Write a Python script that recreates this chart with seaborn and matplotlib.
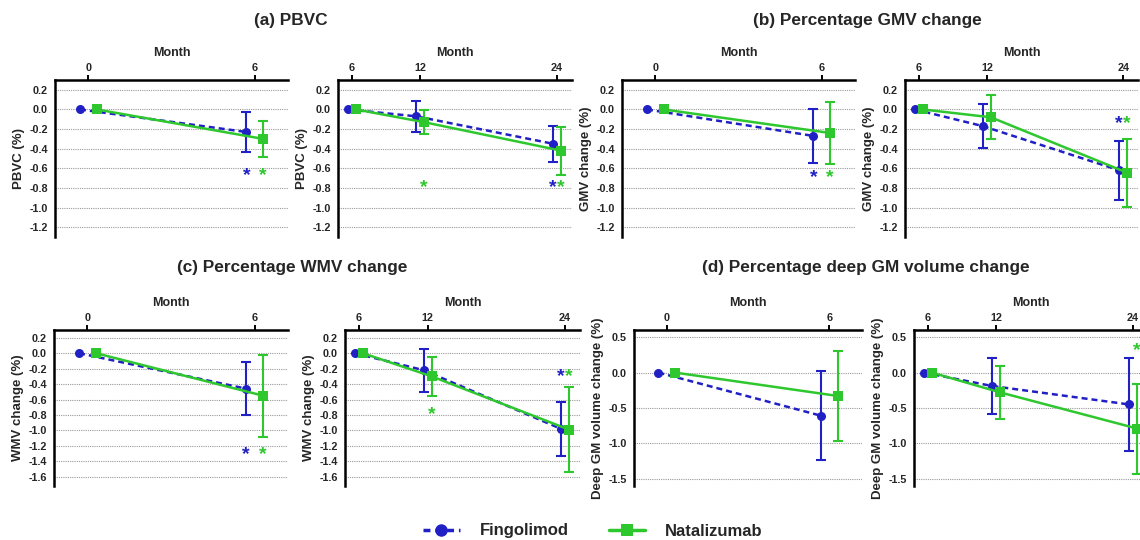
import matplotlib
matplotlib.use("Agg")
import numpy as np
import pandas as pd
import matplotlib.pyplot as plt
from matplotlib.lines import Line2D
from matplotlib.ticker import FormatStrFormatter
from matplotlib.transforms import offset_copy
import seaborn as sns

groups = ["Fingolimod", "Natalizumab"]
months_first = [0, 6]
months_second = [6, 12, 24]

# (a) PBVC
pbvc_first_fin = [0.0, -0.23]
pbvc_first_fin_err = [0.0, 0.20]
pbvc_first_nat = [0.0, -0.30]
pbvc_first_nat_err = [0.0, 0.18]
pbvc_second_fin = [0.0, -0.07, -0.35]
pbvc_second_fin_err = [0.0, 0.16, 0.185]
pbvc_second_nat = [0.0, -0.13, -0.42]
pbvc_second_nat_err = [0.0, 0.125, 0.245]

# (b) GMV
gmv_first_fin = [0.0, -0.27]
gmv_first_fin_err = [0.0, 0.275]
gmv_first_nat = [0.0, -0.24]
gmv_first_nat_err = [0.0, 0.32]
gmv_second_fin = [0.0, -0.17, -0.62]
gmv_second_fin_err = [0.0, 0.225, 0.30]
gmv_second_nat = [0.0, -0.08, -0.645]
gmv_second_nat_err = [0.0, 0.225, 0.345]

# (c) WMV
wmv_first_fin = [0.0, -0.46]
wmv_first_fin_err = [0.0, 0.345]
wmv_first_nat = [0.0, -0.55]
wmv_first_nat_err = [0.0, 0.53]
wmv_second_fin = [0.0, -0.22, -0.98]
wmv_second_fin_err = [0.0, 0.28, 0.35]
wmv_second_nat = [0.0, -0.30, -0.99]
wmv_second_nat_err = [0.0, 0.255, 0.55]

# (d) deep GM
dgm_first_fin = [0.0, -0.61]
dgm_first_fin_err = [0.0, 0.63]
dgm_first_nat = [0.0, -0.33]
dgm_first_nat_err = [0.0, 0.63]
dgm_second_fin = [0.0, -0.19, -0.45]
dgm_second_fin_err = [0.0, 0.40, 0.65]
dgm_second_nat = [0.0, -0.28, -0.79]
dgm_second_nat_err = [0.0, 0.375, 0.635]

# significance stars: (month, group, y)
pbvc_first_stars = [(6, "Fingolimod", -0.64), (6, "Natalizumab", -0.64)]
pbvc_second_stars = [(12, "Natalizumab", -0.76), (24, "Fingolimod", -0.76), (24, "Natalizumab", -0.76)]
gmv_first_stars = [(6, "Fingolimod", -0.66), (6, "Natalizumab", -0.66)]
gmv_second_stars = [(24, "Fingolimod", -0.11), (24, "Natalizumab", -0.11)]
wmv_first_stars = [(6, "Fingolimod", -1.27), (6, "Natalizumab", -1.27)]
wmv_second_stars = [(12, "Natalizumab", -0.75), (24, "Fingolimod", -0.26), (24, "Natalizumab", -0.26)]
dgm_first_stars = []
dgm_second_stars = [(24, "Natalizumab", 0.36)]

titles = ["(a) PBVC", "(b) Percentage GMV change", "(c) Percentage WMV change",
          "(d) Percentage deep GM volume change"]

sns.set_style("white")
plt.rcParams["font.family"] = ["Liberation Sans", "DejaVu Sans"]
plt.rcParams["axes.unicode_minus"] = False

palette = {"Fingolimod": "#2020c4", "Natalizumab": "#2ec82e"}
markers = {"Fingolimod": "o", "Natalizumab": "s"}
dashes = {"Fingolimod": (2.4, 1.6), "Natalizumab": ""}

W, H = 1140, 540
fig = plt.figure(figsize=(11.4, 5.4), dpi=100)


def make_ax(l, t, r, b):
    return fig.add_axes([l / W, 1 - b / H, (r - l) / W, (b - t) / H])


def draw(ax, months, fin, fin_err, nat, nat_err, stars, ylim, yticks, ylabel, xlim, shift):
    df = pd.DataFrame({
        "Month": months + months,
        "value": fin + nat,
        "err": fin_err + nat_err,
        "group": [g for g in groups for _ in months],
    })
    df["x"] = df["Month"] + df["group"].map({"Fingolimod": -shift, "Natalizumab": shift})
    for g in groups:
        sub = df[(df["group"] == g) & (df["err"] > 0)]
        ax.errorbar(sub["x"], sub["value"], yerr=sub["err"], fmt="none",
                    ecolor=palette[g], elinewidth=1.5, capsize=3.5, capthick=1.5, zorder=3)
    sns.lineplot(data=df, x="x", y="value", hue="group", style="group",
                 palette=palette, markers=markers, dashes=dashes,
                 markersize=6.5, markeredgewidth=0, linewidth=1.8,
                 legend=False, ax=ax, zorder=4)
    # asterisk glyph sits high in its box, nudge it down a little
    star_tr = offset_copy(ax.transData, fig=fig, x=0, y=-2.5, units="points")
    for m, g, y in stars:
        off = -shift if g == "Fingolimod" else shift
        ax.text(m + off, y, "*", color=palette[g], ha="center", va="center",
                fontsize=14, fontweight="bold", transform=star_tr)
    ax.set_xlim(*xlim)
    ax.set_ylim(*ylim)
    ax.set_xticks(months)
    ax.set_yticks(yticks)
    ax.yaxis.set_major_formatter(FormatStrFormatter("%.1f"))
    ax.xaxis.tick_top()
    ax.xaxis.set_label_position("top")
    ax.set_xlabel("Month", fontsize=9, fontweight="bold", labelpad=5)
    ax.set_ylabel(ylabel, fontsize=9.5, fontweight="bold", labelpad=3)
    for s in ["right", "bottom"]:
        ax.spines[s].set_visible(False)
    for s in ["top", "left"]:
        ax.spines[s].set_linewidth(1.8)
        ax.spines[s].set_color("black")
    ax.tick_params(axis="both", direction="out", length=3.5, width=1.4,
                   labelsize=7.8, pad=1.5, color="black")
    for lbl in ax.get_xticklabels() + ax.get_yticklabels():
        lbl.set_fontweight("bold")
    ax.grid(axis="y", linestyle=(0, (1, 1)), color="#9a9a9a", linewidth=0.8)
    ax.grid(axis="x", visible=False)


xl1 = (-1.2, 7.2)
xl2 = (4.8, 25.3)
yt_ab = [0.2, 0.0, -0.2, -0.4, -0.6, -0.8, -1.0, -1.2]
yt_c = [0.2, 0.0, -0.2, -0.4, -0.6, -0.8, -1.0, -1.2, -1.4, -1.6]
yt_d = [0.5, 0.0, -0.5, -1.0, -1.5]

draw(make_ax(55, 80, 288, 237), months_first, pbvc_first_fin, pbvc_first_fin_err,
     pbvc_first_nat, pbvc_first_nat_err, pbvc_first_stars, (-1.3, 0.3), yt_ab, "PBVC (%)", xl1, 0.3)
draw(make_ax(338, 80, 572, 237), months_second, pbvc_second_fin, pbvc_second_fin_err,
     pbvc_second_nat, pbvc_second_nat_err, pbvc_second_stars, (-1.3, 0.3), yt_ab, "PBVC (%)", xl2, 0.35)
draw(make_ax(622, 80, 855, 237), months_first, gmv_first_fin, gmv_first_fin_err,
     gmv_first_nat, gmv_first_nat_err, gmv_first_stars, (-1.3, 0.3), yt_ab, "GMV change (%)", xl1, 0.3)
draw(make_ax(905, 80, 1138, 237), months_second, gmv_second_fin, gmv_second_fin_err,
     gmv_second_nat, gmv_second_nat_err, gmv_second_stars, (-1.3, 0.3), yt_ab, "GMV change (%)", xl2, 0.35)
draw(make_ax(54, 330, 288, 486), months_first, wmv_first_fin, wmv_first_fin_err,
     wmv_first_nat, wmv_first_nat_err, wmv_first_stars, (-1.72, 0.3), yt_c, "WMV change (%)", xl1, 0.3)
draw(make_ax(345, 330, 580, 486), months_second, wmv_second_fin, wmv_second_fin_err,
     wmv_second_nat, wmv_second_nat_err, wmv_second_stars, (-1.72, 0.3), yt_c, "WMV change (%)", xl2, 0.35)
draw(make_ax(634, 330, 862, 486), months_first, dgm_first_fin, dgm_first_fin_err,
     dgm_first_nat, dgm_first_nat_err, dgm_first_stars, (-1.6, 0.6), yt_d, "Deep GM volume change (%)", xl1, 0.3)
draw(make_ax(914, 330, 1148, 486), months_second, dgm_second_fin, dgm_second_fin_err,
     dgm_second_nat, dgm_second_nat_err, dgm_second_stars, (-1.6, 0.6), yt_d, "Deep GM volume change (%)", xl2, 0.35)

title_pos = [(291, 21), (867, 21), (292, 268), (866, 268)]
for t, (x, y) in zip(titles, title_pos):
    fig.text(x / W, 1 - y / H, t, ha="center", va="center", fontsize=12.4, fontweight="bold")

handles = [
    Line2D([], [], color=palette["Fingolimod"], marker="o", markersize=9, linewidth=2.5,
           linestyle=(0, (2.0, 1.4)), markeredgewidth=0),
    Line2D([], [], color=palette["Natalizumab"], marker="s", markersize=9, linewidth=2.5,
           linestyle="-", markeredgewidth=0),
]
leg = fig.legend(handles, groups, loc="center", bbox_to_anchor=(593 / W, 1 - 531 / H),
                 ncol=2, frameon=False, handlelength=2.2, columnspacing=2.4,
                 handletextpad=1.2, prop={"size": 12, "weight": "bold"})

fig.savefig("out.png", dpi=100)
